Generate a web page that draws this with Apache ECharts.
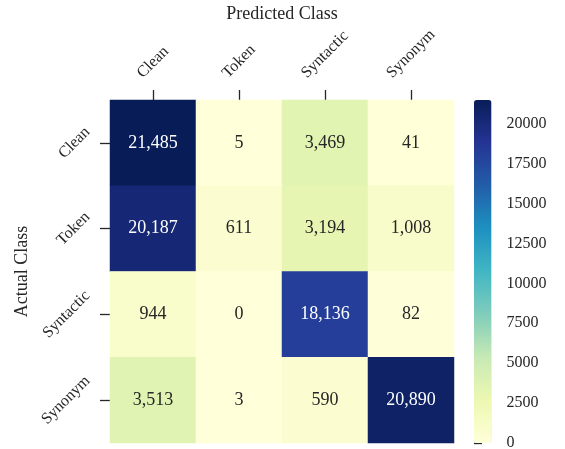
<!DOCTYPE html>
<html>
<head>
<meta charset="utf-8">
<script src="https://cdn.jsdelivr.net/npm/echarts@6/dist/echarts.min.js"></script>
<style>
  html, body { margin: 0; padding: 0; background: #fff; }
  #chart { width: 565px; height: 449px; }
</style>
</head>
<body>
<div id="chart"></div>
<script>
// categories
var predictedClasses = ['Clean', 'Token', 'Syntactic', 'Synonym'];
var actualClasses = ['Clean', 'Token', 'Syntactic', 'Synonym'];
// one row per actual class, columns = predicted class
var rowClean = [21485, 5, 3469, 41];
var rowToken = [20187, 611, 3194, 1008];
var rowSyntactic = [944, 0, 18136, 82];
var rowSynonym = [3513, 3, 590, 20890];
var matrix = [rowClean, rowToken, rowSyntactic, rowSynonym];
// colorbar tick labels
var colorbarTicks = [0, 2500, 5000, 7500, 10000, 12500, 15000, 17500, 20000];

var FONT = "'Liberation Serif', 'DejaVu Serif', serif";
var TXT = '#262626';
var ylgnbu = ['#ffffd9', '#edf8b1', '#c7e9b4', '#7fcdbb', '#41b6c4', '#1d91c0', '#225ea8', '#253494', '#081d58'];

var vmax = 0;
for (var i = 0; i < matrix.length; i++) {
  for (var j = 0; j < matrix[i].length; j++) {
    if (matrix[i][j] > vmax) vmax = matrix[i][j];
  }
}

var cells = [];
for (var r = 0; r < matrix.length; r++) {
  for (var c = 0; c < matrix[r].length; c++) {
    var v = matrix[r][c];
    cells.push({
      value: [c, r, v],
      label: { color: v / vmax > 0.55 ? '#ffffff' : TXT }
    });
  }
}

// rotated tick labels: matplotlib keeps the rotated box against the axis,
// so longer words need to sit further out
var cvs = document.createElement('canvas').getContext('2d');
cvs.font = '16px "Liberation Serif"';
function textW(s) { return cvs.measureText(s).width; }

function rotatedRich(labels, gap, isX) {
  var rich = {}, base = Infinity, m = {};
  labels.forEach(function (s) {
    m[s] = gap + (textW(s) + 12.5) * 0.354;
    if (m[s] < base) base = m[s];
  });
  labels.forEach(function (s) {
    var p = (m[s] - base) * 1.414;
    rich[s] = {
      fontSize: 16, fontFamily: FONT, color: TXT,
      padding: isX ? [0, 0, p, p] : [0, p, p, 0]
    };
  });
  return { rich: rich, margin: base };
}
var xLab = rotatedRich(predictedClasses, 20, true);
var yLab = rotatedRich(actualClasses, 18, false);

var chart = echarts.init(document.getElementById('chart'));
chart.setOption({
  backgroundColor: '#fff',
  animation: false,
  grid: [
    { left: 110, top: 100, width: 344, height: 343, outerBoundsMode: 'none', containLabel: false },
    { left: 474, top: 100, width: 17.5, height: 343, outerBoundsMode: 'none', containLabel: false }
  ],
  xAxis: [{
    type: 'category',
    data: predictedClasses,
    position: 'top',
    name: 'Predicted Class',
    nameLocation: 'middle',
    nameGap: 77,
    nameMoveOverlap: false,
    nameTextStyle: { fontSize: 18, fontFamily: FONT, color: TXT },
    axisLine: { show: false },
    axisTick: { show: true, alignWithLabel: true, length: 10, lineStyle: { color: TXT, width: 1.3 } },
    axisLabel: {
      interval: 0, rotate: -45, align: 'center', verticalAlign: 'middle',
      margin: xLab.margin, rich: xLab.rich,
      formatter: function (s) { return '{' + s + '|' + s + '}'; }
    },
    splitLine: { show: false }
  }, {
    gridIndex: 1, type: 'value', show: false, min: 0, max: 1
  }],
  yAxis: [{
    type: 'category',
    data: actualClasses,
    inverse: true,
    name: 'Actual Class',
    nameLocation: 'middle',
    nameGap: 79,
    nameMoveOverlap: false,
    nameTextStyle: { fontSize: 18, fontFamily: FONT, color: TXT },
    axisLine: { show: false },
    axisTick: { show: true, alignWithLabel: true, length: 10, lineStyle: { color: TXT, width: 1.3 } },
    axisLabel: {
      interval: 0, rotate: 45, align: 'center', verticalAlign: 'middle',
      margin: yLab.margin, rich: yLab.rich,
      formatter: function (s) { return '{' + s + '|' + s + '}'; }
    },
    splitLine: { show: false }
  }, {
    gridIndex: 1,
    type: 'value',
    min: 0,
    max: vmax,
    position: 'right',
    axisLine: { show: false },
    splitLine: { show: false },
    axisTick: { show: true, length: 8, customValues: colorbarTicks, lineStyle: { color: TXT, width: 1.3 } },
    axisLabel: {
      margin: 15, fontSize: 16, fontFamily: FONT, color: TXT, customValues: colorbarTicks,
      formatter: function (v) { return String(v); }
    }
  }],
  visualMap: {
    type: 'continuous',
    seriesIndex: 0,
    min: 0,
    max: vmax,
    orient: 'vertical',
    left: 474,
    top: 100,
    padding: 0,
    itemWidth: 17.5,
    itemHeight: 343,
    calculable: false,
    hoverLink: false,
    inRange: { color: ylgnbu }
  },
  series: [{
    type: 'heatmap',
    data: cells,
    label: {
      show: true,
      fontSize: 18,
      fontFamily: FONT,
      formatter: function (p) { return p.value[2].toLocaleString('en-US'); }
    },
    emphasis: { disabled: true },
    itemStyle: { borderWidth: 0 }
  }]
});
</script>
</body>
</html>
